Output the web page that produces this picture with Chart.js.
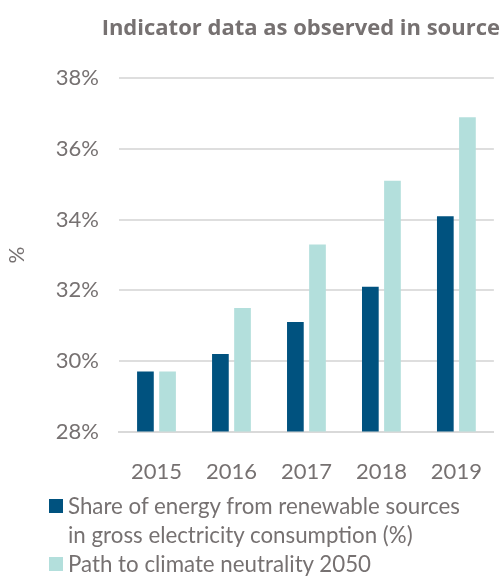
<!DOCTYPE html>
<html lang="en">
<head>
    <meta charset="UTF-8">
    <title>Indicator data as observed in source</title>
    <script src="https://cdn.jsdelivr.net/npm/chart.js"></script>
    <style>
        body {
            margin: 0;
            font-family: Lato, sans-serif;
            background: #fff;
        }

        #wrap {
            position: relative;
            width: 501px;
            height: 579px;
        }

        #legend {
            position: absolute;
            left: 49px;
            top: 491px;
            color: #767171;
            font-size: 22.3px;
            line-height: 29px;
        }

        .item {
            position: relative;
            padding-left: 19px;
        }

        .box {
            position: absolute;
            left: 0;
            top: 8px;
            width: 14px;
            height: 14px;
        }
    </style>
</head>
<body>
    <div id="wrap">
        <canvas id="chart" width="501" height="579"></canvas>
        <div id="legend"></div>
    </div>

    <script>
        // Chart values
        const years = ['2015', '2016', '2017', '2018', '2019'];
        const renewableShare = [29.7, 30.2, 31.1, 32.1, 34.1];
        const climatePath = [29.7, 31.5, 33.3, 35.1, 36.9];
        const seriesNames = [
            ['Share of energy from renewable sources', 'in gross electricity consumption (%)'],
            ['Path to climate neutrality 2050']
        ];
        const yTicks = [28, 30, 32, 34, 36, 38];

        const darkBlue = '#00527f';
        const lightTeal = '#b3dfdc';
        const grey = '#767171';

        const ctx = document.getElementById('chart').getContext('2d');
        const chart = new Chart(ctx, {
            type: 'bar',
            data: {
                labels: years,
                datasets: [{
                    label: seriesNames[0].join(' '),
                    data: renewableShare,
                    backgroundColor: darkBlue,
                    categoryPercentage: 0.59,
                    barPercentage: 0.755
                }, {
                    label: seriesNames[1].join(' '),
                    data: climatePath,
                    backgroundColor: lightTeal,
                    categoryPercentage: 0.59,
                    barPercentage: 0.755
                }]
            },
            options: {
                responsive: false,
                animation: false,
                layout: {
                    padding: { left: 0, right: 1, top: 16, bottom: 75 }
                },
                plugins: {
                    legend: { display: false },
                    tooltip: { enabled: false },
                    title: {
                        display: true,
                        text: 'Indicator data as observed in source',
                        align: 'end',
                        color: grey,
                        font: { family: 'Open Sans', size: 22, weight: 'bold' },
                        padding: { top: 0, bottom: 36 }
                    }
                },
                scales: {
                    x: {
                        grid: { display: false },
                        border: { color: '#d9d9d9', width: 2 },
                        ticks: {
                            color: grey,
                            font: { family: 'Lato', size: 22 },
                            padding: 19
                        }
                    },
                    y: {
                        min: yTicks[0],
                        max: yTicks[yTicks.length - 1],
                        afterBuildTicks: axis => {
                            axis.ticks = yTicks.map(v => ({ value: v }));
                        },
                        // fixed axis width so the plot starts where the reference does
                        afterFit: axis => {
                            axis.width = 119;
                        },
                        grid: {
                            color: '#dedede',
                            lineWidth: 2,
                            drawTicks: false
                        },
                        border: { display: false },
                        ticks: {
                            color: grey,
                            font: { family: 'Lato', size: 22 },
                            padding: 20,
                            callback: v => v + '%'
                        },
                        title: {
                            display: true,
                            text: '%',
                            color: grey,
                            font: { family: 'Lato', size: 21 },
                            padding: { top: 5, bottom: 4 }
                        }
                    }
                }
            }
        });

        // HTML legend below the chart, built from the series names
        const legend = document.getElementById('legend');
        chart.data.datasets.forEach((ds, i) => {
            const item = document.createElement('div');
            item.className = 'item';
            const box = document.createElement('span');
            box.className = 'box';
            box.style.background = ds.backgroundColor;
            item.appendChild(box);
            seriesNames[i].forEach(line => {
                const l = document.createElement('div');
                l.textContent = line;
                item.appendChild(l);
            });
            legend.appendChild(item);
        });
    </script>
</body>
</html>
